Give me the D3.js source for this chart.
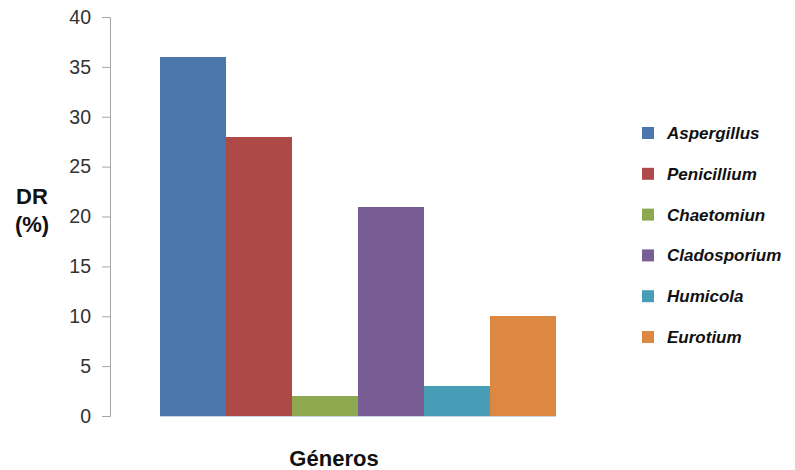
<!DOCTYPE html>
<html>
<head>
<meta charset="utf-8">
<script src="https://cdn.jsdelivr.net/npm/d3@7"></script>
<style>
  html, body { margin: 0; padding: 0; background: #fff; }
  svg { display: block; font-family: "Liberation Sans", Arial, sans-serif; }
</style>
</head>
<body>
<svg id="chart" width="795" height="470"></svg>
<script>
// Genera and their DR (%) values
const genera = ["Aspergillus", "Penicillium", "Chaetomiun", "Cladosporium", "Humicola", "Eurotium"];
const values = [36, 28, 2, 21, 3, 10];
const colors = ["#4a76ab", "#ad4a48", "#8ea84f", "#775d94", "#479db5", "#dc8843"];
const yTicks = [0, 5, 10, 15, 20, 25, 30, 35, 40];

const svg = d3.select("#chart");

const y = d3.scaleLinear().domain([0, 40]).range([416, 17]);
const x = d3.scaleBand().domain(genera).range([160, 556]).padding(0);

// Y axis
const yAxis = d3.axisLeft(y).tickValues(yTicks).tickSize(8).tickPadding(11);
const gy = svg.append("g").attr("transform", "translate(110,0)").call(yAxis);
gy.select(".domain").attr("stroke", "#a6a6a6").attr("d", "M-8,17.5H0.5V416.5H-8");
gy.selectAll(".tick line").attr("stroke", "#a6a6a6");
gy.selectAll(".tick text")
  .attr("fill", "#333")
  .style("font-size", "19.5px")
  .style("font-family", "'Liberation Sans', Arial, sans-serif");

// Bars
svg.append("g").attr("shape-rendering", "crispEdges").selectAll("rect")
  .data(genera)
  .join("rect")
  .attr("x", d => x(d))
  .attr("y", (d, i) => y(values[i]))
  .attr("width", x.bandwidth())
  .attr("height", (d, i) => y(0) - y(values[i]))
  .attr("fill", (d, i) => colors[i]);

// Baseline under the bars
svg.append("line")
  .attr("x1", 160).attr("x2", 556)
  .attr("y1", y(0) + 0.5).attr("y2", y(0) + 0.5)
  .attr("stroke", "#c9d4e3").attr("stroke-width", 1);

// Y axis title
const yt = svg.append("text")
  .attr("text-anchor", "middle")
  .attr("font-weight", "bold").attr("font-size", 22).attr("fill", "#111");
yt.append("tspan").attr("x", 32).attr("y", 204).text("DR");
yt.append("tspan").attr("x", 32).attr("y", 232).text("(%)");

// X axis title
svg.append("text")
  .attr("x", 334).attr("y", 466)
  .attr("text-anchor", "middle")
  .attr("font-weight", "bold").attr("font-size", 22).attr("fill", "#111")
  .text("Géneros");

// Legend
const legend = svg.append("g").selectAll("g")
  .data(genera)
  .join("g")
  .attr("transform", (d, i) => `translate(642,${133 + i * 40.8})`);
legend.append("rect")
  .attr("x", 0).attr("y", -6).attr("width", 12).attr("height", 12)
  .attr("fill", (d, i) => colors[i]);
legend.append("text")
  .attr("x", 25).attr("y", 6)
  .attr("font-weight", "bold").attr("font-style", "italic")
  .attr("font-size", 17).attr("fill", "#111")
  .text(d => d);
</script>
</body>
</html>
